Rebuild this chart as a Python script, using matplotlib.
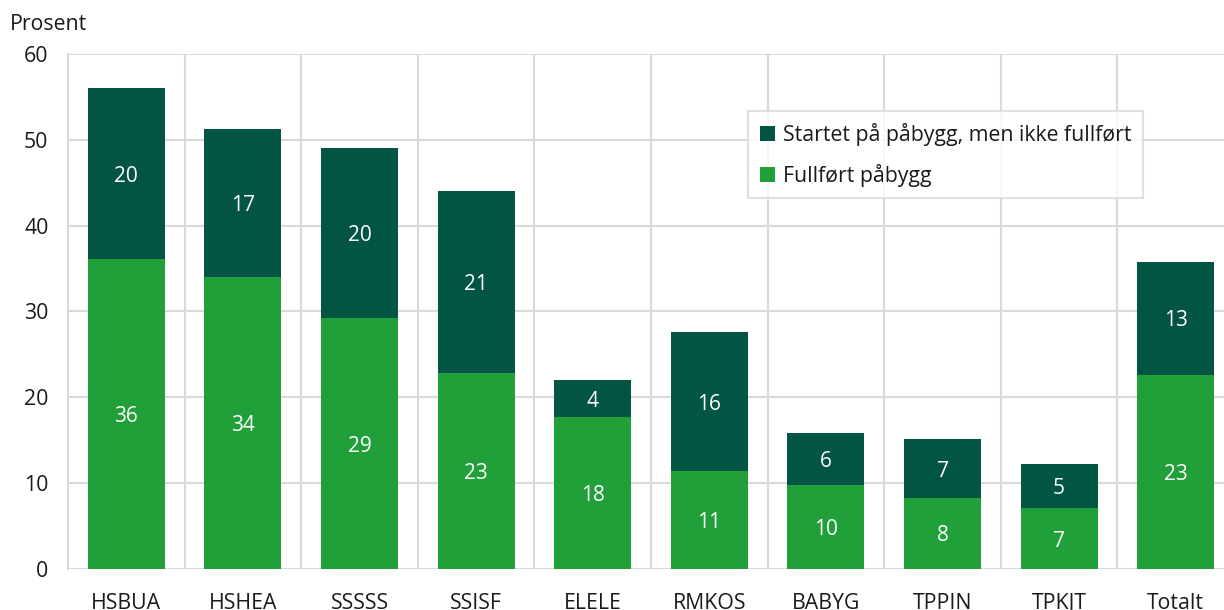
import matplotlib.pyplot as plt
import numpy as np

plt.rcParams['font.family'] = ['Open Sans', 'DejaVu Sans']

# Data
categories = ['HSBUA', 'HSHEA', 'SSSSS', 'SSISF', 'ELELE', 'RMKOS', 'BABYG', 'TPPIN', 'TPKJT', 'Totalt']
fullfort = [36.1, 34.0, 29.2, 22.8, 17.7, 11.4, 9.8, 8.3, 7.1, 22.6]
ikke_fullfort = [19.9, 17.3, 19.8, 21.2, 4.3, 16.2, 6.1, 6.8, 5.1, 13.2]

green = '#21a03a'
dark = '#035543'
grid_col = '#d9d9d9'

fig = plt.figure(figsize=(12.24, 6.10), dpi=100)
ax = fig.add_axes([68 / 1224, 1 - 569 / 610, (1234 - 68) / 1224, (569 - 54) / 610])

x = np.arange(len(categories))
b1 = ax.bar(x, fullfort, width=0.66, color=green, label='Fullført påbygg', zorder=3)
b2 = ax.bar(x, ikke_fullfort, width=0.66, bottom=fullfort, color=dark,
            label='Startet på påbygg, men ikke fullført', zorder=3)

# verdier midt i hvert segment
for i in range(len(categories)):
    ax.text(x[i], fullfort[i] / 2 - 0.3, f'{round(fullfort[i])}', ha='center', va='center',
            color='white', fontsize=15, zorder=4)
    ax.text(x[i], fullfort[i] + ikke_fullfort[i] / 2 - 0.3, f'{round(ikke_fullfort[i])}',
            ha='center', va='center', color='white', fontsize=15, zorder=4)

ax.set_xlim(-0.5, len(categories) - 0.5)
ax.set_ylim(0, 60)
ax.set_yticks(range(0, 61, 10))
ax.set_xticks(x)
ax.set_xticklabels(categories)
ax.set_xticks(np.arange(-0.5, len(categories), 1), minor=True)

ax.grid(axis='y', color=grid_col, linewidth=1.5, zorder=0)
ax.grid(axis='x', which='minor', color=grid_col, linewidth=1.5, zorder=0)
ax.grid(axis='x', which='major', visible=False)

for s in ax.spines.values():
    s.set_visible(False)
ax.spines['left'].set_visible(True)
ax.spines['left'].set_color(grid_col)
ax.spines['left'].set_linewidth(1.5)

ax.tick_params(axis='both', which='both', length=0, labelsize=15.3, colors='#1a1a1a')
ax.tick_params(axis='y', pad=14)
ax.tick_params(axis='x', pad=17)

fig.text(10 / 1224, 1 - 25 / 610, 'Prosent', fontsize=15.3, color='#1a1a1a', va='center', ha='left')

leg = ax.legend(handles=[b2, b1], loc='upper left', bbox_to_anchor=(748 / 1224, 1 - 111 / 610),
                bbox_transform=fig.transFigure, fontsize=15.3, frameon=True, fancybox=False,
                handlelength=0.7, handleheight=0.7, handletextpad=0.4, borderpad=0.55,
                labelspacing=0.85, borderaxespad=0)
leg.get_frame().set_edgecolor(grid_col)
leg.get_frame().set_linewidth(1.5)
for t in leg.get_texts():
    t.set_color('#1a1a1a')

fig.savefig('out.png', dpi=100)
plt.close(fig)
